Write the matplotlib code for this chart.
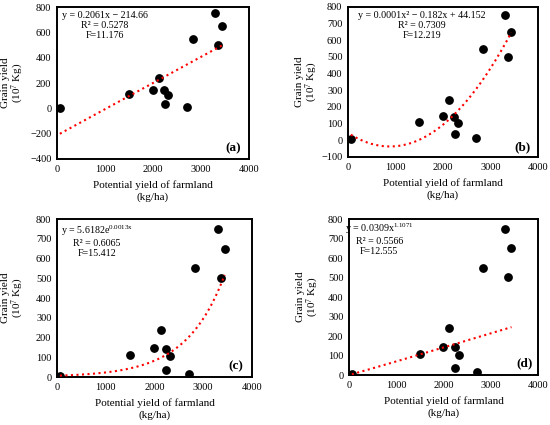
import numpy as np
import matplotlib
matplotlib.use("Agg")
import matplotlib.pyplot as plt

plt.rcParams['font.family'] = ['Liberation Serif', 'DejaVu Serif']
plt.rcParams['mathtext.fontset'] = 'custom'
plt.rcParams['mathtext.rm'] = 'Liberation Serif'
plt.rcParams['mathtext.it'] = 'Liberation Serif'

# data
potential = np.array([60, 1500, 2000, 2125, 2240, 2245, 2320, 2700, 2840, 3300, 3360, 3440])
grain = np.array([5, 110, 145, 240, 142, 37, 104, 14, 550, 750, 502, 650])

eq_texts = [
    "y = 0.2061x \u2212 214.66\nR\u00b2 = 0.5278\nF=11.176",
    "y = 0.0001x\u00b2 \u2212 0.182x + 44.152\nR\u00b2 = 0.7309\nF=12.219",
    "y = 5.6182e$^{\\mathrm{0.0013x}}$\nR\u00b2 = 0.6065\nF=15.412",
    "y = 0.0309x$^{\\mathrm{1.1071}}$\nR\u00b2 = 0.5566\nF=12.555",
]
panel_tags = ["(a)", "(b)", "(c)", "(d)"]
ylims = [(-400, 800), (-100, 800), (0, 800), (0, 800)]
ysteps = [200, 100, 100, 100]

# axes rectangles (fig fraction)
rects = [
    [0.1036, 0.6259, 0.349, 0.3576],
    [0.6327, 0.6306, 0.3455, 0.353],
    [0.1036, 0.1129, 0.3545, 0.3718],
    [0.6345, 0.1176, 0.3436, 0.367],
]
eq_pos = [(0.25, 0.975), (0.39, 0.975), (0.205, 0.97), (0.16, 0.985)]
tag_pos = [(0.917, 0.07), (0.916, 0.067), (0.918, 0.07), (0.93, 0.077)]
ylab_x = [-0.16, -0.145, -0.157, -0.15]

xs = np.linspace(potential.min(), potential.max(), 200)

# trend lines fitted from the points
lin = np.polyfit(potential, grain, 1)
quad = np.polyfit(potential, grain, 2)
expo = np.polyfit(potential, np.log(grain), 1)
powr = np.polyfit(np.log(potential), np.log(grain), 1)
fits = [
    np.polyval(lin, xs),
    np.polyval(quad, xs),
    np.exp(expo[1]) * np.exp(expo[0] * xs),
    np.exp(powr[1]) * xs ** powr[0],
]

fig = plt.figure(figsize=(5.5, 4.25), dpi=100)
for i in range(4):
    ax = fig.add_axes(rects[i])
    ax.scatter(potential, grain, s=28, color='black', zorder=3)
    ax.plot(xs, fits[i], color='red', linestyle=':', linewidth=1.5, zorder=4)
    ax.set_xlim(0, 4000)
    ax.set_ylim(*ylims[i])
    ax.set_xticks(np.arange(0, 4001, 1000))
    ax.set_yticks(np.arange(ylims[i][0], ylims[i][1] + 1, ysteps[i]))
    ax.tick_params(length=0, labelsize=7.5, pad=4)
    for sp in ax.spines.values():
        sp.set_linewidth(1.4)
    ax.set_xlabel("Potential yield of farmland\n(kg/ha)", fontsize=8, labelpad=5,
                  linespacing=1.35)
    ax.set_ylabel("Grain yield\n(10$^{7}$ Kg)", fontsize=8, linespacing=1.0)
    ax.yaxis.set_label_coords(ylab_x[i], 0.5)
    ax.text(eq_pos[i][0], eq_pos[i][1], eq_texts[i], transform=ax.transAxes,
            ha='center', va='top', multialignment='center', fontsize=7.2, linespacing=1.15)
    ax.text(tag_pos[i][0], tag_pos[i][1], panel_tags[i], transform=ax.transAxes,
            ha='center', va='center', fontsize=9.5, fontweight='bold')

fig.savefig("out.png", dpi=100)
